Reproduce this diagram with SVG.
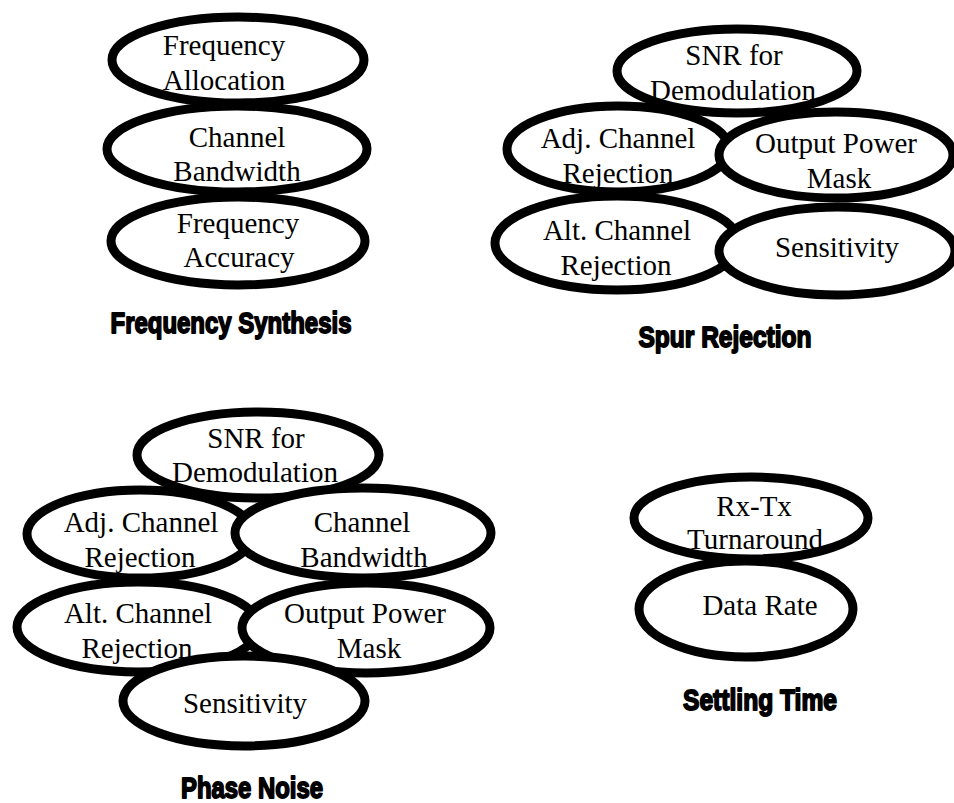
<svg xmlns="http://www.w3.org/2000/svg" width="954" height="803" viewBox="0 0 954 803">
  <style>
    .bub { fill: #ffffff; stroke: #000000; stroke-width: 9; }
    .lbl { font-family: "Liberation Serif", "Times New Roman", serif; font-size: 29px; fill: #000000; text-anchor: middle; }
    .ttl { font-family: "Liberation Sans Narrow", "Liberation Sans", "DejaVu Sans Condensed", sans-serif; font-weight: bold; font-size: 30px; fill: #000000; stroke: #000000; stroke-width: 1.8; stroke-linejoin: round; text-anchor: middle; }
  </style>
  <rect width="954" height="803" fill="#ffffff"/>

  <!-- Frequency Synthesis -->
  <g id="freq-synthesis">
    <g id="fs-allocation">
      <ellipse class="bub" cx="238" cy="60" rx="126" ry="43"/>
      <text class="lbl" x="224" y="55">Frequency</text>
      <text class="lbl" x="224" y="90">Allocation</text>
    </g>
    <g id="fs-bandwidth">
      <ellipse class="bub" cx="237" cy="149" rx="130" ry="43"/>
      <text class="lbl" x="237" y="147">Channel</text>
      <text class="lbl" x="237" y="181">Bandwidth</text>
    </g>
    <g id="fs-accuracy">
      <ellipse class="bub" cx="238" cy="241" rx="127" ry="44"/>
      <text class="lbl" x="238" y="233">Frequency</text>
      <text class="lbl" x="239" y="267">Accuracy</text>
    </g>
    <text class="ttl" x="231" y="333" textLength="241" lengthAdjust="spacingAndGlyphs">Frequency Synthesis</text>
  </g>

  <!-- Spur Rejection -->
  <g id="spur-rejection">
    <g id="sr-snr">
      <ellipse class="bub" cx="737" cy="71" rx="120" ry="42"/>
      <text class="lbl" x="734" y="65">SNR for</text>
    </g>
    <g id="sr-adj">
      <ellipse class="bub" cx="618" cy="149" rx="111" ry="43"/>
      <text class="lbl" x="618" y="148">Adj. Channel</text>
      <text class="lbl" x="618" y="183">Rejection</text>
    </g>
    <text class="lbl" x="733" y="100">Demodulation</text>
    <g id="sr-outpower">
      <ellipse class="bub" cx="836" cy="155" rx="117" ry="43"/>
      <text class="lbl" x="836" y="153">Output Power</text>
      <text class="lbl" x="839" y="188">Mask</text>
    </g>
    <g id="sr-alt">
      <ellipse class="bub" cx="617" cy="243" rx="122" ry="47"/>
      <text class="lbl" x="617" y="240">Alt. Channel</text>
      <text class="lbl" x="616" y="275">Rejection</text>
    </g>
    <g id="sr-sensitivity">
      <ellipse class="bub" cx="837" cy="251" rx="118" ry="44"/>
      <text class="lbl" x="837" y="257">Sensitivity</text>
    </g>
    <text class="ttl" x="725" y="347" textLength="173" lengthAdjust="spacingAndGlyphs">Spur Rejection</text>
  </g>

  <!-- Phase Noise -->
  <g id="phase-noise">
    <g id="pn-snr">
      <ellipse class="bub" cx="258" cy="455" rx="121" ry="43"/>
      <text class="lbl" x="256" y="448">SNR for</text>
    </g>
    <g id="pn-adj">
      <ellipse class="bub" cx="140" cy="534" rx="113" ry="44"/>
      <text class="lbl" x="141" y="532">Adj. Channel</text>
      <text class="lbl" x="140" y="567">Rejection</text>
    </g>
    <g id="pn-bandwidth">
      <ellipse class="bub" cx="363" cy="533" rx="128" ry="45"/>
      <text class="lbl" x="362" y="532">Channel</text>
      <text class="lbl" x="364" y="567">Bandwidth</text>
    </g>
    <text class="lbl" x="255" y="482">Demodulation</text>
    <g id="pn-alt">
      <ellipse class="bub" cx="138" cy="627" rx="121" ry="45"/>
      <text class="lbl" x="138" y="623">Alt. Channel</text>
    </g>
    <g id="pn-outpower">
      <ellipse class="bub" cx="366" cy="628" rx="124" ry="45"/>
      <text class="lbl" x="365" y="623">Output Power</text>
      <text class="lbl" x="369" y="658">Mask</text>
    </g>
    <g id="pn-sensitivity">
      <ellipse class="bub" cx="244" cy="701" rx="121" ry="45"/>
      <text class="lbl" x="245" y="713">Sensitivity</text>
    </g>
    <text class="lbl" x="137" y="658">Rejection</text>
    <text class="ttl" x="252" y="798" textLength="142" lengthAdjust="spacingAndGlyphs">Phase Noise</text>
  </g>

  <!-- Settling Time -->
  <g id="settling-time">
    <g id="st-turnaround">
      <ellipse class="bub" cx="751" cy="518" rx="117" ry="41"/>
      <text class="lbl" x="754" y="516">Rx-Tx</text>
    </g>
    <g id="st-datarate">
      <ellipse class="bub" cx="746" cy="609" rx="107" ry="48"/>
      <text class="lbl" x="760" y="615">Data Rate</text>
    </g>
    <text class="lbl" x="755" y="549">Turnaround</text>
    <text class="ttl" x="760" y="710" textLength="154" lengthAdjust="spacingAndGlyphs">Settling Time</text>
  </g>
</svg>
